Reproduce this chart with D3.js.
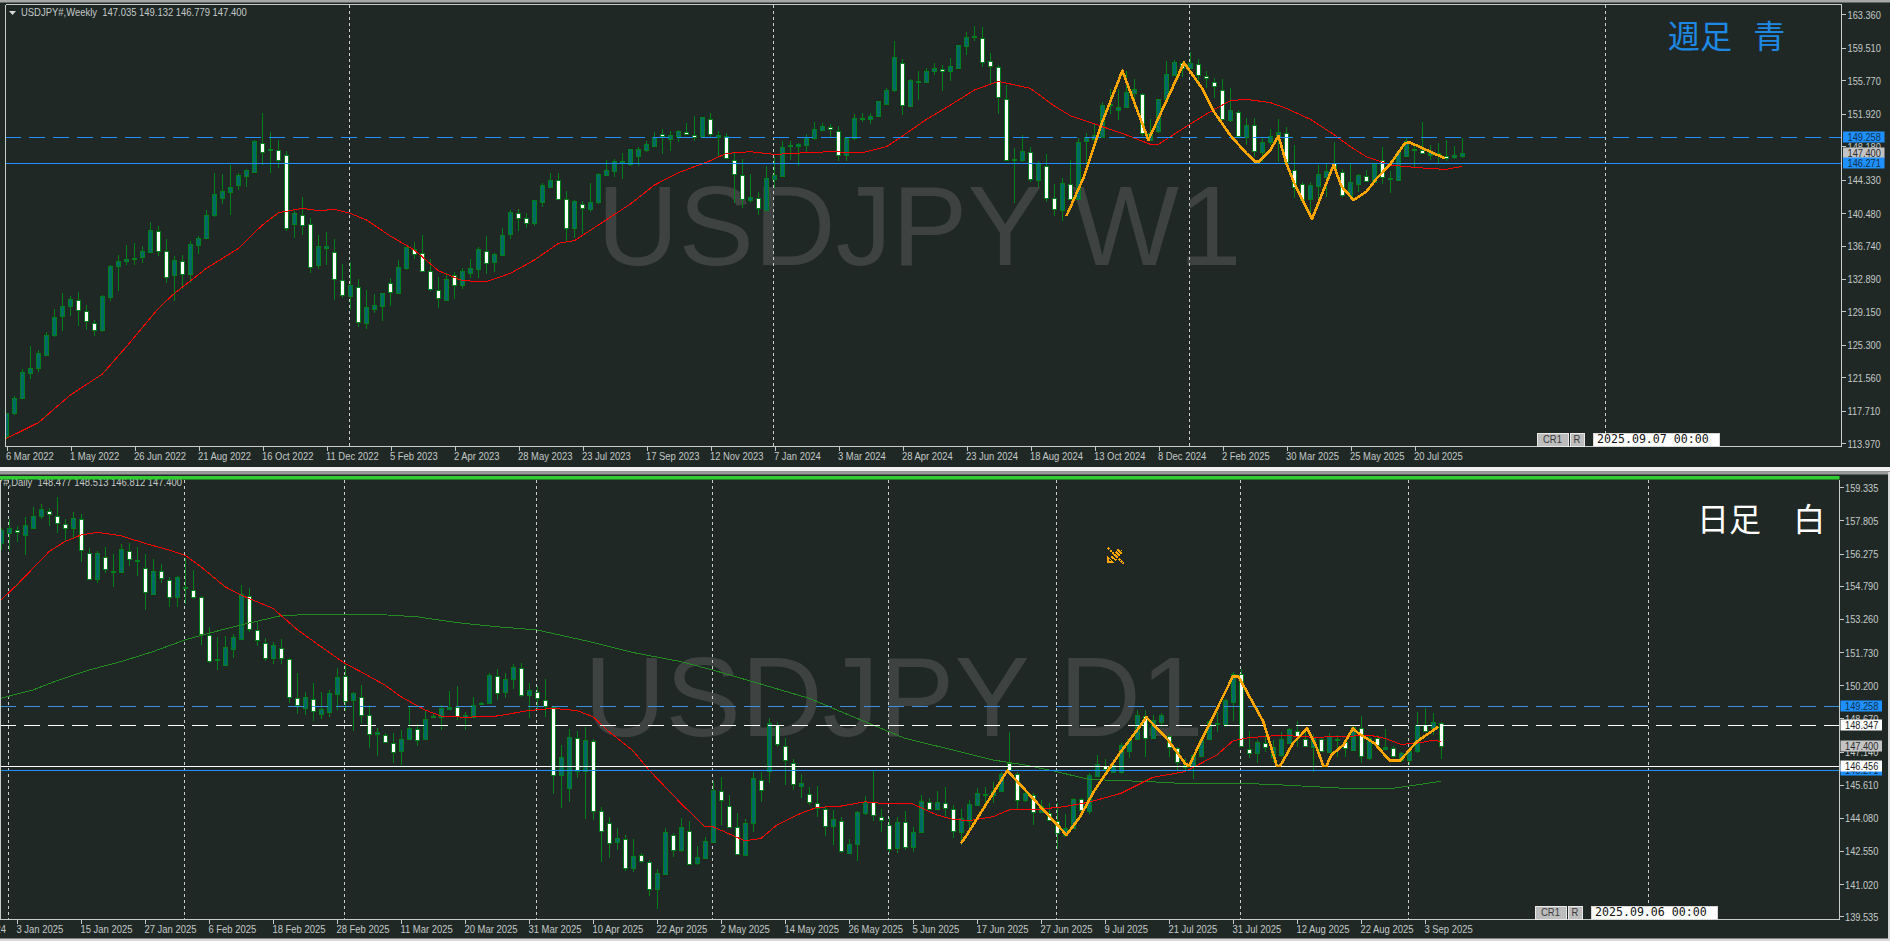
<!DOCTYPE html>
<html><head><meta charset="utf-8">
<script src="https://cdn.jsdelivr.net/npm/d3@7/dist/d3.min.js"></script>
<style>html,body{margin:0;padding:0;background:#1f2825;overflow:hidden}svg{display:block}</style>
</head><body><svg id="c" width="1890" height="941"></svg>
<script>
const wOpen=[114.81,117.39,119.15,122.02,122.60,124.10,126.36,128.55,129.70,130.51,
129.24,127.86,126.94,130.85,134.30,134.88,135.11,135.34,135.92,138.45,
136.15,133.27,134.99,133.38,136.84,137.60,140.17,142.13,142.82,143.63,
144.66,145.24,148.58,147.66,147.77,147.20,139.14,140.29,139.25,134.50,
136.38,135.95,132.81,130.85,131.93,127.74,129.43,129.70,132.46,131.20,
134.15,136.38,135.92,133.84,131.66,130.47,133.35,132.12,133.61,134.00,
136.15,134.76,135.65,137.99,140.52,139.94,139.29,141.71,143.44,144.28,
142.13,138.68,141.56,140.90,141.67,144.82,145.28,146.20,146.05,146.97,
147.66,148.23,149.58,149.04,149.27,149.81,149.50,149.27,151.34,149.31,
149.35,146.58,144.89,142.05,142.21,140.83,144.43,144.82,148.12,148.12,
148.35,149.19,150.07,150.38,149.92,147.08,149.04,151.30,151.22,151.57,
152.95,154.56,157.79,152.80,155.60,155.60,156.87,157.10,156.75,157.17,
159.74,160.70,160.66,158.02,157.29,153.64,146.51,146.51,147.50,144.20,
145.93,142.21,140.75,143.86,142.18,148.70,148.97,149.27,152.92,152.27,
152.65,154.26,154.15,148.89,149.85,153.57,156.29,157.72,157.14,157.64,
156.22,155.60,154.68,151.12,152.15,149.20,150.66,147.55,148.70,149.20,
149.73,145.44,143.86,142.06,143.52,144.67,146.20,145.25,142.37,143.79,
144.78,143.98,146.63,144.36,144.36,147.13,147.89,147.78,147.24,147.16,147.09,146.90,147.035];
const wHigh=[117.43,119.42,122.48,125.17,124.71,126.78,129.43,131.24,130.93,131.35,
129.85,128.17,131.00,134.50,135.61,136.76,136.99,136.68,139.45,138.99,
137.49,135.53,135.61,137.22,137.83,140.83,145.12,144.97,146.01,145.12,
145.58,148.88,152.03,149.81,148.88,147.62,140.75,142.36,139.87,137.91,
138.26,137.49,134.61,134.84,132.85,131.62,131.16,131.24,132.96,135.07,
136.61,137.11,137.91,135.15,133.08,133.61,133.73,134.15,135.15,136.61,
137.83,135.84,138.72,140.83,140.90,140.44,141.94,143.97,145.05,145.05,
142.98,141.98,141.82,143.90,145.05,146.54,146.70,147.39,147.81,148.12,
148.73,149.77,150.19,149.92,150.04,150.84,151.69,151.57,151.95,149.96,
149.73,147.35,146.66,144.97,142.86,145.93,146.97,148.81,148.73,148.58,
149.54,150.92,150.88,150.73,150.50,149.19,151.92,151.95,151.95,153.37,
154.83,160.24,158.25,155.87,156.83,157.13,157.71,157.52,158.29,159.86,
161.28,162.01,161.85,158.86,157.52,155.22,147.93,149.42,148.04,146.51,
147.27,143.82,144.55,146.58,149.16,149.66,150.73,153.30,154.76,154.76,
156.87,155.91,154.26,151.31,153.65,157.98,158.10,157.91,159.02,158.21,
156.87,155.99,155.87,154.84,152.34,151.38,151.38,149.27,150.12,151.27,
150.43,148.31,144.09,144.09,146.01,146.20,148.62,145.51,146.28,144.98,
145.44,146.13,148.05,145.36,147.62,149.27,148.43,150.92,148.31,148.51,148.89,148.20,149.132];
const wLow=[114.54,117.23,119.07,121.33,122.22,124.02,126.25,126.94,128.63,127.47,
127.01,126.36,126.82,130.35,131.50,134.50,134.50,134.69,135.84,135.53,
132.46,130.35,131.77,132.39,135.76,137.45,140.06,141.52,140.29,143.13,
143.51,145.20,146.05,145.12,145.70,138.45,137.60,137.91,133.61,134.07,
134.50,130.47,130.74,129.32,127.40,127.17,128.93,128.05,129.78,131.16,
133.92,135.19,133.84,131.54,129.58,130.35,130.58,131.70,133.04,133.04,
133.46,133.69,135.53,137.53,138.41,138.75,138.98,141.21,143.32,141.98,
137.11,137.57,138.06,140.64,141.52,144.74,144.59,144.43,145.89,145.93,
147.50,148.12,147.27,147.58,148.65,149.46,148.77,149.19,149.19,146.97,
146.66,141.59,141.02,141.59,140.25,140.75,143.32,144.74,146.58,145.93,
147.43,148.88,149.96,149.19,146.47,146.47,148.92,150.96,150.73,151.49,
152.88,154.45,151.76,152.72,153.49,155.48,156.37,154.52,155.68,157.10,
158.67,160.28,157.33,155.33,151.88,146.51,141.67,146.39,144.09,143.44,
141.79,140.14,139.60,142.05,142.06,146.20,148.81,149.20,151.84,151.19,
152.54,152.54,149.35,148.81,149.66,153.11,156.26,156.18,157.10,155.22,
154.84,153.69,151.27,151.00,149.20,148.31,146.97,146.40,148.31,146.40,
146.28,142.18,141.91,139.87,141.22,142.37,145.51,142.37,142.18,142.94,
144.09,143.90,143.79,142.75,144.29,146.97,145.82,147.36,146.59,146.20,146.51,146.66,146.779];
const wClose=[117.43,119.15,122.14,122.60,124.33,126.44,128.47,129.74,130.54,129.32,
128.05,127.09,130.89,134.38,134.92,135.15,135.26,136.07,138.49,136.11,
133.19,135.03,133.54,136.87,137.60,140.21,142.63,142.98,143.44,144.82,
145.39,148.77,147.58,147.81,146.66,138.83,140.44,139.18,134.34,136.64,
136.64,132.85,131.12,132.16,127.86,129.62,129.85,131.24,131.47,134.23,
136.53,135.84,133.88,131.81,130.77,132.85,132.16,133.77,134.15,136.30,
134.80,135.72,137.91,140.56,139.98,139.41,141.94,143.67,144.24,142.05,
138.83,141.82,141.13,141.71,144.93,145.39,146.47,146.43,147.81,147.81,
148.39,149.27,149.35,149.50,149.88,149.54,149.31,151.49,149.65,149.50,
146.81,144.97,142.17,142.36,141.06,144.55,144.89,148.12,148.27,148.39,
149.27,150.19,150.53,150.15,147.16,149.08,151.38,151.42,151.61,153.34,
154.60,158.40,152.99,155.75,155.68,156.87,157.21,156.83,157.36,159.78,
160.78,160.86,157.86,157.48,153.83,146.58,146.66,147.58,144.36,146.20,
142.29,140.94,143.90,142.17,148.70,149.20,149.47,152.92,153.00,152.65,
154.38,154.72,149.66,149.66,153.57,156.49,157.83,157.14,157.72,156.37,
155.95,155.18,151.38,152.30,149.35,150.58,147.62,148.70,149.39,149.77,
146.40,143.44,141.98,143.67,144.94,145.36,145.63,142.64,144.02,144.82,
144.17,146.09,144.71,144.48,147.55,148.81,147.74,147.39,147.55,147.36,146.90,147.12,147.400];
const wMaIdx=[0,2,4,8,12,15,19,21,25,29,32,34,37,39,41,43,45,48,51,54,57,60,63,66,69,71,74,78,81,84,88,90,93,96,100,103,107,110,112,115,118,121,124,128,131,133,137,140,143,144,147,150,153,155,158,160,163,166,168,170,173,175,178,180,182];
const wMaVal=[114.54,115.43,116.35,119.53,121.95,125.09,129.51,131.23,134.11,136.41,139.1,140.52,141.02,140.75,140.90,140.44,139.68,137.83,136.22,133.84,132.69,132.58,133.54,135.07,136.99,137.30,139.10,141.52,143.70,145.12,146.51,147.35,147.54,147.23,147.43,147.54,147.43,148.12,149.35,151.26,152.91,154.64,155.64,154.83,152.80,151.69,150.43,149.47,148.39,148.39,150.16,151.88,153.42,153.57,153.19,152.53,151.27,149.47,148.12,146.97,146.01,145.82,145.59,145.51,145.86];
const wZigIdx=[132.5,134.7,137,139.5,142.75,147.2,149.6,150.8,152.95,155,156.1,156.6,158,159,160,160.9,163.2,165.9,166.9,168.4,170,171.3,172.9,174.8,175.4,179.8];
const wZigVal=[140.14,144.66,151.0,156.87,148.89,157.79,154.65,152.34,149.47,147.36,146.40,146.40,147.74,149.35,146.2,144.09,139.80,146.01,143.52,141.98,142.94,144.48,146.01,148.51,148.62,146.78];
const wTicks=["6 Mar 2022","1 May 2022","26 Jun 2022","21 Aug 2022","16 Oct 2022","11 Dec 2022","5 Feb 2023","2 Apr 2023","28 May 2023","23 Jul 2023","17 Sep 2023","12 Nov 2023","7 Jan 2024","3 Mar 2024","28 Apr 2024","23 Jun 2024","18 Aug 2024","13 Oct 2024","8 Dec 2024","2 Feb 2025","30 Mar 2025","25 May 2025","20 Jul 2025"];
const wPrices=[163.360,159.510,155.770,151.920,148.180,144.330,140.480,136.740,132.890,129.150,125.300,121.560,117.710,113.970];
const wSeps=[43,96,148,200];

const dOpen=[156.78,157.21,157.36,157.12,157.49,157.98,158.26,158.03,157.64,157.44,
157.87,156.32,155.09,156.13,155.49,155.41,156.41,155.98,155.63,154.44,
155.49,155.07,154.26,154.66,154.61,154.29,152.53,151.35,151.15,151.90,
152.35,154.32,152.76,152.16,151.46,151.93,151.41,149.63,149.18,149.58,
148.87,148.95,149.78,150.64,149.49,149.67,148.84,147.96,147.92,147.55,
147.13,147.70,148.20,147.70,148.72,148.72,149.10,149.21,148.73,148.73,
149.33,149.35,150.64,149.86,150.47,151.01,149.72,149.90,149.53,149.20,
146.03,145.44,147.78,146.21,147.64,144.41,143.86,142.95,143.12,141.79,
142.38,142.06,140.78,141.50,143.30,142.56,143.49,141.96,142.19,142.93,
145.33,144.64,143.67,142.36,143.83,145.83,146.21,148.36,147.39,146.63,
145.52,145.19,144.78,144.50,143.67,143.95,142.43,142.84,144.29,144.80,
144.12,143.76,142.67,143.90,142.75,143.41,144.83,144.49,144.78,144.50,
143.44,143.93,144.70,145.12,145.13,145.33,146.63,146.10,144.87,145.13,
144.33,144.29,143.95,143.29,143.60,144.94,144.37,146.03,146.47,146.21,
146.21,147.14,147.70,148.80,147.78,148.52,147.87,147.29,146.52,146.47,
146.93,147.74,148.41,148.40,149.44,150.70,147.24,147.06,147.52,146.90,
146.98,147.52,148.11,147.70,147.34,147.72,147.14,147.64,147.60,147.24,
148.21,146.81,147.77,147.27,147.32,146.75,146.75,147.13,148.37,148.21,148.477];
const dHigh=[157.44,157.86,157.55,157.98,158.41,158.56,158.36,158.87,157.86,158.18,
158.10,156.52,156.39,156.56,156.26,156.72,156.75,156.56,156.26,156.01,
155.80,155.21,155.24,156.06,155.52,154.32,152.87,152.44,152.47,152.56,
154.84,154.69,153.13,152.36,152.21,152.33,151.44,150.75,149.89,150.29,
149.89,149.98,150.98,151.21,149.89,150.21,149.30,148.24,147.98,147.98,
148.13,149.21,148.41,149.06,148.90,149.27,149.95,150.16,148.96,149.64,
149.44,150.78,150.95,150.78,151.18,151.24,150.29,150.16,150.47,149.24,
147.44,148.16,148.10,148.29,147.70,144.56,144.13,143.60,143.29,143.10,
142.47,142.13,141.72,143.60,143.40,144.06,143.93,142.78,143.18,145.78,
145.95,145.13,144.29,144.01,146.21,146.21,148.67,148.52,147.75,146.78,
146.10,145.52,145.55,144.59,144.44,144.10,143.10,144.41,145.09,146.26,
144.47,144.13,144.10,144.41,143.67,145.13,144.98,145.32,145.49,144.67,
144.47,144.90,145.44,145.52,145.75,146.21,148.03,146.21,145.40,145.21,
144.90,144.75,144.75,144.26,144.98,144.98,146.14,146.98,146.78,146.78,
147.52,147.75,149.06,149.06,148.83,148.90,147.95,147.37,146.83,147.03,
147.70,148.60,148.98,149.55,150.83,150.94,148.09,147.67,147.90,147.67,
148.06,148.21,148.55,148.21,147.95,147.83,147.98,147.90,147.67,148.37,
148.78,147.90,147.90,148.18,147.40,147.13,147.21,148.98,149.13,148.94,148.513];
const dLow=[156.44,156.44,156.83,156.21,157.44,157.86,157.56,157.21,156.83,156.98,
155.90,155.06,154.93,155.39,154.75,155.36,155.70,155.24,153.67,154.41,
154.90,153.80,153.83,153.95,154.16,152.06,151.24,150.90,151.13,151.44,
152.32,152.67,152.03,151.33,151.18,151.18,149.36,148.87,148.83,148.56,
148.63,148.75,149.06,149.03,148.10,148.44,147.32,146.93,147.55,146.62,
146.52,147.67,147.39,147.67,148.67,148.13,149.06,148.59,148.13,148.69,
149.27,149.32,149.52,149.60,150.01,149.67,148.70,149.06,148.75,145.18,
144.55,144.83,145.90,144.01,143.98,142.06,142.24,142.60,141.64,141.60,
142.01,140.47,139.89,141.44,142.26,142.52,141.95,141.90,142.16,142.90,
143.75,143.60,142.36,142.32,143.43,144.83,145.70,147.36,145.60,145.36,
144.98,144.67,144.10,143.24,142.83,142.44,142.41,142.10,144.21,143.95,
143.44,142.47,142.44,142.60,142.52,143.36,144.47,144.44,144.13,143.16,
142.83,143.52,144.67,144.75,144.75,145.29,146.21,144.47,144.83,143.75,
144.29,143.95,142.63,143.21,143.55,144.37,144.26,146.01,146.06,146.14,
146.10,146.86,147.67,146.90,147.75,148.29,146.90,146.29,146.29,145.86,
146.90,147.70,148.06,148.29,148.57,147.33,146.83,146.60,147.14,146.67,
146.90,147.49,147.34,147.34,146.21,147.12,147.10,146.90,146.90,147.21,
146.60,146.75,147.34,147.21,146.83,146.67,146.52,147.09,148.06,147.90,146.812];
const dClose=[157.36,157.44,157.27,157.58,158.03,158.32,158.10,157.72,157.44,157.90,
156.43,155.10,156.29,155.56,155.43,156.47,156.03,155.93,154.50,155.49,
155.18,154.30,155.18,154.72,154.30,152.60,151.33,151.39,151.98,152.44,
154.41,152.78,152.29,151.49,152.04,151.46,149.64,149.29,149.67,149.04,
149.09,149.83,150.56,149.50,149.83,148.86,147.98,148.03,147.61,147.15,
147.70,148.21,147.70,148.63,148.76,149.13,149.20,148.81,148.81,149.27,
149.36,150.66,149.87,150.47,151.03,149.78,149.96,149.61,149.24,146.06,
146.87,147.79,146.26,147.66,144.43,143.47,142.96,143.13,141.79,142.33,
142.09,140.80,141.52,143.44,142.60,143.64,141.98,142.26,142.99,145.35,
144.90,143.67,142.41,143.83,145.90,145.36,148.44,147.47,146.75,145.67,
145.67,144.84,144.56,143.70,144.01,142.58,142.86,144.33,144.81,144.20,
143.98,142.67,143.87,142.75,143.44,144.84,144.52,144.80,144.53,143.47,
144.09,144.70,145.24,145.16,145.33,146.10,146.29,144.90,145.21,144.36,
144.63,143.98,143.40,143.60,144.94,144.41,146.04,146.57,146.32,146.52,
147.44,147.70,148.83,147.80,148.60,148.83,147.34,146.64,146.44,146.98,
147.67,148.55,148.44,149.52,150.72,147.38,147.06,147.57,147.34,147.34,
147.70,148.17,147.89,147.37,147.80,147.15,147.87,147.70,147.34,148.29,
146.90,147.75,147.43,147.37,146.93,147.06,147.18,148.35,148.09,148.49,147.400];
const dRedIdx=[0,2,6,8,10,12,15,18,21,23,25,28,30,34,37,40,43,45,48,50,53,55,58,62,66,69,72,74,76,79,81,85,88,89,93,95,97,100,102,105,108,111,114,117,119,121,124,126,130,133,136,140,144,148,152,154,156,160,164,168,171,173,175,177,179,180];
const dRedVal=[154.13,154.83,156.36,156.83,157.13,157.26,157.10,156.75,156.44,156.20,155.67,154.75,154.36,153.75,152.78,151.98,151.21,150.82,150.21,149.67,149.06,148.78,148.72,148.78,149.03,149.13,149.03,148.75,148.06,147.18,146.29,144.75,143.67,143.67,143.02,143.13,143.75,144.29,144.56,144.62,144.82,144.72,144.72,144.21,144.01,143.95,144.13,144.44,144.48,144.60,144.80,145.21,145.95,146.21,146.98,147.63,147.78,147.89,147.80,147.83,147.90,147.75,147.47,147.52,147.66,147.61];
const dGreenIdx=[0,4,7,11,15,19,23,26,30,35,39,47,52,57,62,67,73,79,85,89,94,101,107,113,119,124,128,132,136,140,144,148,152,156,160,164,168,174,177,180];
const dGreenVal=[149.60,149.98,150.41,150.90,151.29,151.75,152.29,152.60,152.98,153.41,153.47,153.47,153.36,153.09,152.90,152.75,152.26,151.71,151.29,150.90,150.36,149.60,148.67,147.75,147.21,146.75,146.52,146.21,145.85,145.80,145.74,145.66,145.67,145.66,145.60,145.52,145.44,145.44,145.60,145.77];
const dZigIdx=[120,120.6,125.8,133.2,134.9,136.6,139.7,143.2,145.9,148,148.5,150.7,154,154.7,156.3,157.8,159.5,159.9,161.5,163.3,164.5,165.3,165.7,166.3,167.8,169,169.7,171.7,173.6,174.9,177,179.7];
const dZigVal=[142.90,143.21,146.26,143.29,144.13,145.29,146.98,148.72,147.67,146.60,146.47,148.14,150.60,150.60,149.52,148.52,146.47,146.47,147.52,148.21,147.29,146.47,146.47,146.98,147.44,148.21,147.98,147.52,146.72,146.72,147.60,148.29];
const dTicks=["24 Dec 2024","3 Jan 2025","15 Jan 2025","27 Jan 2025","6 Feb 2025","18 Feb 2025","28 Feb 2025","11 Mar 2025","20 Mar 2025","31 Mar 2025","10 Apr 2025","22 Apr 2025","2 May 2025","14 May 2025","26 May 2025","5 Jun 2025","17 Jun 2025","27 Jun 2025","9 Jul 2025","21 Jul 2025","31 Jul 2025","12 Aug 2025","22 Aug 2025","3 Sep 2025"];
const dPrices=[159.335,157.805,156.275,154.790,153.260,151.730,150.200,148.670,147.140,145.610,144.080,142.550,141.020,139.535];
const dSeps=[1,23,43,67,89,111,132,155,176,206];

const svg=d3.select('#c');
const FRAME='#c8cccc',AX='#c4c8c8',BLUE='#1e90ff',UPF='#006a66',EDGE='#00801a';
const FONT='"Liberation Sans",Arial,sans-serif';
let clipN=0;

function panel(o){
  const g=svg.append('g');
  const {L,R,T,B}=o;
  const x=d3.scaleLinear().domain([0,1]).range([o.x0,o.x0+o.bar]);
  const y=d3.scaleLinear().domain([o.pTop,o.pBot]).range([o.yTop,o.yBot]);
  const id='clip'+(clipN++);
  svg.append('clipPath').attr('id',id).append('rect').attr('x',L).attr('y',T).attr('width',R-L).attr('height',B-T);
  const plot=g.append('g').attr('clip-path',`url(#${id})`);
  plot.append('text').attr('x',o.wmX).attr('y',o.wmY).attr('font-family',FONT).attr('font-size',o.wmSize)
    .attr('fill','#3e4341').text(o.wm);
  plot.selectAll('line.sep').data(o.seps).join('line').attr('class','sep')
    .attr('x1',d=>Math.round(x(d))-.5).attr('x2',d=>Math.round(x(d))-.5).attr('y1',o.sepTop).attr('y2',B)
    .attr('stroke','#c8cccc').attr('stroke-dasharray','3,3').attr('shape-rendering','crispEdges');
  const bars=d3.range(o.open.length).map(i=>({i,o:o.open[i],h:o.high[i],l:o.low[i],c:o.close[i]}));
  const cg=plot.append('g').attr('shape-rendering','crispEdges');
  cg.selectAll('line').data(bars).join('line')
    .attr('x1',d=>Math.round(x(d.i))+.5).attr('x2',d=>Math.round(x(d.i))+.5)
    .attr('y1',d=>y(d.h)).attr('y2',d=>y(d.l)).attr('stroke',EDGE);
  cg.selectAll('rect').data(bars).join('rect')
    .attr('x',d=>Math.round(x(d.i))-1.5).attr('width',4)
    .attr('y',d=>Math.round(y(Math.max(d.o,d.c)))+.5)
    .attr('height',d=>Math.max(1,Math.round(Math.abs(y(d.o)-y(d.c)))))
    .attr('fill',d=>d.c>=d.o?UPF:'#ffffff').attr('stroke',EDGE);
  const ln=d3.line().x(d=>x(d[0])).y(d=>y(d[1]));
  o.lines.forEach(s=>{
    plot.append('path').attr('d',ln(d3.zip(s.idx,s.val))).attr('fill','none').attr('stroke',s.color)
      .attr('stroke-width',1).attr('shape-rendering','crispEdges');
  });
  o.levels.forEach(s=>{
    plot.append('line').attr('x1',L).attr('x2',R).attr('y1',Math.round(y(s.p))+.5).attr('y2',Math.round(y(s.p))+.5)
      .attr('stroke',s.color).attr('stroke-width',s.w).attr('stroke-dasharray',s.dash||null).attr('shape-rendering','crispEdges');
  });
  plot.append('path').attr('d',ln(d3.zip(o.zigIdx,o.zigVal))).attr('fill','none').attr('stroke','#ffa500')
    .attr('stroke-width',2.6).attr('stroke-linejoin','round').attr('shape-rendering','crispEdges');
  g.append('path').attr('d',`M${L+.5} ${T+.5}V${B+.5}H${R+.5}V${T+.5}`+(o.topFrame?`H${L+.5}`:'')).attr('fill','none').attr('stroke',FRAME).attr('shape-rendering','crispEdges');
  const ay=d3.axisRight(y).tickValues(o.prices).tickFormat(d3.format('.3f')).tickSize(4).tickPadding(0);
  const ga=g.append('g').attr('transform',`translate(${R+.5},0)`).call(ay);
  ga.select('.domain').remove();
  ga.selectAll('line').attr('stroke',AX).attr('shape-rendering','crispEdges');
  ga.selectAll('text').attr('x',null).attr('dy',null).attr('font-family',FONT).attr('font-size',11).attr('fill',AX)
    .attr('transform',`translate(${o.axTextDx},4) scale(.84,1)`);
  const tx=d3.axisBottom(x).tickValues(o.tickIdx).tickFormat((d,i)=>o.ticks[i]).tickSize(4).tickPadding(0);
  const gt=g.append('g').attr('transform',`translate(.5,${B+.5})`).call(tx);
  gt.select('.domain').remove();
  gt.selectAll('line').attr('stroke',AX).attr('shape-rendering','crispEdges');
  gt.selectAll('text').attr('y',null).attr('dy',null).attr('text-anchor','start').attr('font-family',FONT).attr('font-size',11).attr('fill',AX)
    .attr('transform',`translate(-1.5,13) scale(.86,1)`);
  const tg=g.append('g').attr('transform',`translate(${o.tagX},0)`);
  o.tags.forEach(t=>{
    tg.append('rect').attr('x',0).attr('y',Math.round(y(t.p))-5.5).attr('width',41.5).attr('height',11).attr('fill',t.bg);
    tg.append('text').attr('font-family',FONT).attr('font-size',11).attr('fill',t.fg)
      .attr('transform',`translate(${o.tagDx},${Math.round(y(t.p))+3.5}) scale(.84,1)`).text(d3.format('.3f')(t.p));
  });
  const b=o.btn;
  const btn=(bx,w,label)=>{
    g.append('rect').attr('x',bx).attr('y',b.y).attr('width',w).attr('height',b.h).attr('fill','#bdbdbd').attr('stroke','#e8e8e8').attr('shape-rendering','crispEdges');
    g.append('text').attr('text-anchor','middle').attr('font-family',FONT).attr('font-size',11).attr('fill','#3a3a3a')
      .attr('transform',`translate(${bx+w/2},${b.y+b.h-3}) scale(.86,1)`).text(label);
  };
  btn(b.x,31,'CR1');btn(b.x+33,14,'R');
  g.append('rect').attr('x',b.x+56.5).attr('y',b.y).attr('width',126).attr('height',b.h).attr('fill','#fff').attr('stroke','#d8d8d8').attr('shape-rendering','crispEdges');
  g.append('text').attr('x',b.x+60).attr('y',b.y+b.h-3).attr('font-family','"DejaVu Sans Mono",monospace').attr('font-size',11.6).attr('fill','#111').text(b.label);
  g.append('text').attr('x',o.hX).attr('y',o.hY).attr('text-anchor',o.hAnchor).attr('font-family',FONT).attr('font-size',11).attr('fill',AX)
    .style('white-space','pre').attr('transform',`translate(${o.hX*.14},0) scale(.86,1)`).text(o.header);
  g.append('text').attr('x',o.noteX).attr('y',o.noteY).attr('font-family','"Noto Sans CJK JP",sans-serif').attr('font-size',32)
    .attr('fill',o.noteColor).attr('word-spacing',o.noteSpace).style('white-space','pre').text(o.note);
}

svg.append('rect').attr('width',1890).attr('height',2.5).attr('fill','#a8a8a8');
svg.append('rect').attr('x',0).attr('y',467).attr('width',1890).attr('height',4.5).attr('fill','#f0f0f0');
svg.append('rect').attr('x',0).attr('y',471.5).attr('width',1890).attr('height',3).attr('fill','#9a9a9a');
svg.append('rect').attr('x',0).attr('y',938.5).attr('width',1890).attr('height',2.5).attr('fill','#d8d8d8');
svg.append('rect').attr('x',1888).attr('y',472).attr('width',2).attr('height',469).attr('fill','#d8d8d8');

panel({L:5,R:1841,T:4,B:446,topFrame:true,x0:6.4,bar:8,pTop:163.36,pBot:113.97,yTop:14.3,yBot:443.3,
  open:wOpen,high:wHigh,low:wLow,close:wClose,seps:wSeps,sepTop:5,
  wm:'USDJPY W1',wmX:597,wmY:265,wmSize:113,
  lines:[{idx:wMaIdx,val:wMaVal,color:'#ff0000'}],
  levels:[{p:149.258,color:BLUE,w:1,dash:'16,8'},{p:146.271,color:BLUE,w:1.4}],
  zigIdx:wZigIdx,zigVal:wZigVal,prices:wPrices,axTextDx:6,
  tickIdx:d3.range(0,wTicks.length).map(k=>k*8),ticks:wTicks,
  tagX:1843,tagDx:4.5,
  tags:[{p:149.258,bg:BLUE,fg:'#14304a'},{p:147.4,bg:'#c4c4c4',fg:'#2a2a2a'},{p:146.271,bg:BLUE,fg:'#14304a'}],
  btn:{x:1537,y:433,h:13,label:'2025.09.07 00:00'},
  header:'USDJPY#,Weekly  147.035 149.132 146.779 147.400',hX:21,hY:16.5,hAnchor:'start',
  note:'週足 青',noteX:1668,noteY:48,noteColor:'#1e88e5',noteSpace:14});
svg.append('path').attr('d',d3.line()([[9,11],[16,11],[12.5,15]])+'Z').attr('fill','#d8d8d8');

panel({L:0,R:1839,T:479,B:919,topFrame:false,x0:.9,bar:8,pTop:159.335,pBot:139.535,yTop:487.3,yBot:916.3,
  open:dOpen,high:dHigh,low:dLow,close:dClose,seps:dSeps,sepTop:480,
  wm:'USDJPY D1',wmX:584,wmY:736,wmSize:113,
  lines:[{idx:dGreenIdx,val:dGreenVal,color:'#228b22'},{idx:dRedIdx,val:dRedVal,color:'#ff0000'}],
  levels:[{p:149.258,color:'#3d8fe0',w:1,dash:'16,8'},{p:148.347,color:'#ffffff',w:1.4,dash:'16,8'},{p:146.456,color:'#ffffff',w:1.4},{p:146.271,color:BLUE,w:1.4}],
  zigIdx:dZigIdx,zigVal:dZigVal,prices:dPrices,axTextDx:5.5,
  tickIdx:d3.range(0,dTicks.length).map(k=>k*8-6),ticks:dTicks,
  tagX:1840.5,tagDx:4.5,
  tags:[{p:149.258,bg:BLUE,fg:'#14304a'},{p:146.271,bg:BLUE,fg:'#14304a'},{p:148.347,bg:'#ffffff',fg:'#222'},{p:147.4,bg:'#c4c4c4',fg:'#2a2a2a'},{p:146.456,bg:'#ffffff',fg:'#222'}],
  btn:{x:1535,y:906,h:13,label:'2025.09.06 00:00'},
  header:'USDJPY#,Daily  148.477 148.513 146.812 147.400',hX:182,hY:486.5,hAnchor:'end',
  note:'日足 白',noteX:1697,noteY:531,noteColor:'#ffffff',noteSpace:25});
svg.append('rect').attr('x',0).attr('y',476).attr('width',1839.5).attr('height',3.5).attr('fill','#32cd32');

const pen=svg.append('g').attr('fill','none').attr('stroke','#ffa500').attr('shape-rendering','crispEdges');
pen.append('line').attr('x1',1108).attr('y1',548).attr('x2',1124).attr('y2',564).attr('stroke-width',2).attr('stroke-dasharray','2,1');
pen.append('line').attr('x1',1113).attr('y1',559).attr('x2',1121).attr('y2',550).attr('stroke-width',6).attr('stroke-dasharray','2,1');
pen.append('path').attr('d','M1108 557V562H1113Z').attr('stroke-width',1.2);
</script></body></html>
